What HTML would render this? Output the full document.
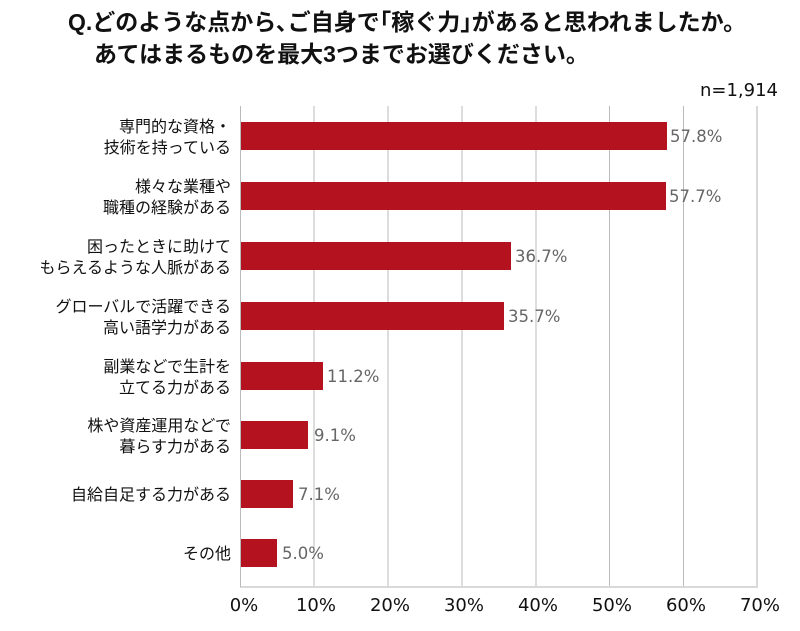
<!DOCTYPE html>
<html><head><meta charset="utf-8"><style>
body{margin:0;background:#fff;}
svg text{font-family:"Liberation Sans","Noto Sans CJK JP",sans-serif;}
svg .n{font-family:"DejaVu Sans",sans-serif;}
</style></head><body>
<svg width="800" height="626" xmlns="http://www.w3.org/2000/svg">
<text x="68" y="30" font-size="23" font-weight="bold" fill="#111">Q.どのような点から､ご自身で｢稼ぐ力｣があると思われましたか。</text>
<text x="94" y="62" font-size="23" font-weight="bold" fill="#111">あてはまるものを最大3つまでお選びください。</text>
<text class="n" x="778" y="96" font-size="18" text-anchor="end" fill="#111">n=1,914</text>
<g stroke="#bbb" stroke-width="1">
<line x1="314" y1="106" x2="314" y2="587"/><line x1="388" y1="106" x2="388" y2="587"/>
<line x1="462" y1="106" x2="462" y2="587"/><line x1="536" y1="106" x2="536" y2="587"/>
<line x1="609.5" y1="106" x2="609.5" y2="587"/><line x1="683.5" y1="106" x2="683.5" y2="587"/>
</g>
<g stroke="#d9d9d9" stroke-width="2"><line x1="757" y1="106" x2="757" y2="587"/><line x1="240" y1="587" x2="758" y2="587"/></g>
<line x1="240.5" y1="106" x2="240.5" y2="587" stroke="#bbb"/>
<g fill="#b5121f">
<rect x="241" y="122" width="426" height="28"/>
<rect x="241" y="182" width="425" height="28"/>
<rect x="241" y="242" width="270" height="28"/>
<rect x="241" y="302" width="263" height="28"/>
<rect x="241" y="362" width="82" height="28"/>
<rect x="241" y="421" width="67" height="28"/>
<rect x="241" y="480" width="52" height="28"/>
<rect x="241" y="539" width="36" height="28"/>
</g>
<g font-size="16.5" fill="#666">
<text class="n" x="670" y="142">57.8%</text><text class="n" x="669" y="202">57.7%</text>
<text class="n" x="515" y="262">36.7%</text><text class="n" x="508" y="322">35.7%</text>
<text class="n" x="327" y="382">11.2%</text><text class="n" x="314" y="441">9.1%</text>
<text class="n" x="298" y="500">7.1%</text><text class="n" x="282" y="559">5.0%</text>
</g>
<g font-size="16" fill="#111" text-anchor="end">
<text x="231" y="132">専門的な資格・</text><text x="231" y="153">技術を持っている</text>
<text x="231" y="192">様々な業種や</text><text x="231" y="213">職種の経験がある</text>
<text x="231" y="252">困ったときに助けて</text><text x="231" y="273">もらえるような人脈がある</text>
<text x="231" y="312">グローバルで活躍できる</text><text x="231" y="333">高い語学力がある</text>
<text x="231" y="372">副業などで生計を</text><text x="231" y="393">立てる力がある</text>
<text x="231" y="431">株や資産運用などで</text><text x="231" y="452">暮らす力がある</text>
<text x="231" y="500">自給自足する力がある</text>
<text x="231" y="559">その他</text>
</g>
<g font-size="18" fill="#111" text-anchor="middle">
<text class="n" x="244" y="611">0%</text><text class="n" x="316" y="611">10%</text><text class="n" x="390" y="611">20%</text>
<text class="n" x="464" y="611">30%</text><text class="n" x="538" y="611">40%</text><text class="n" x="612" y="611">50%</text>
<text class="n" x="686" y="611">60%</text><text class="n" x="760" y="611">70%</text>
</g>
</svg>
</body></html>
